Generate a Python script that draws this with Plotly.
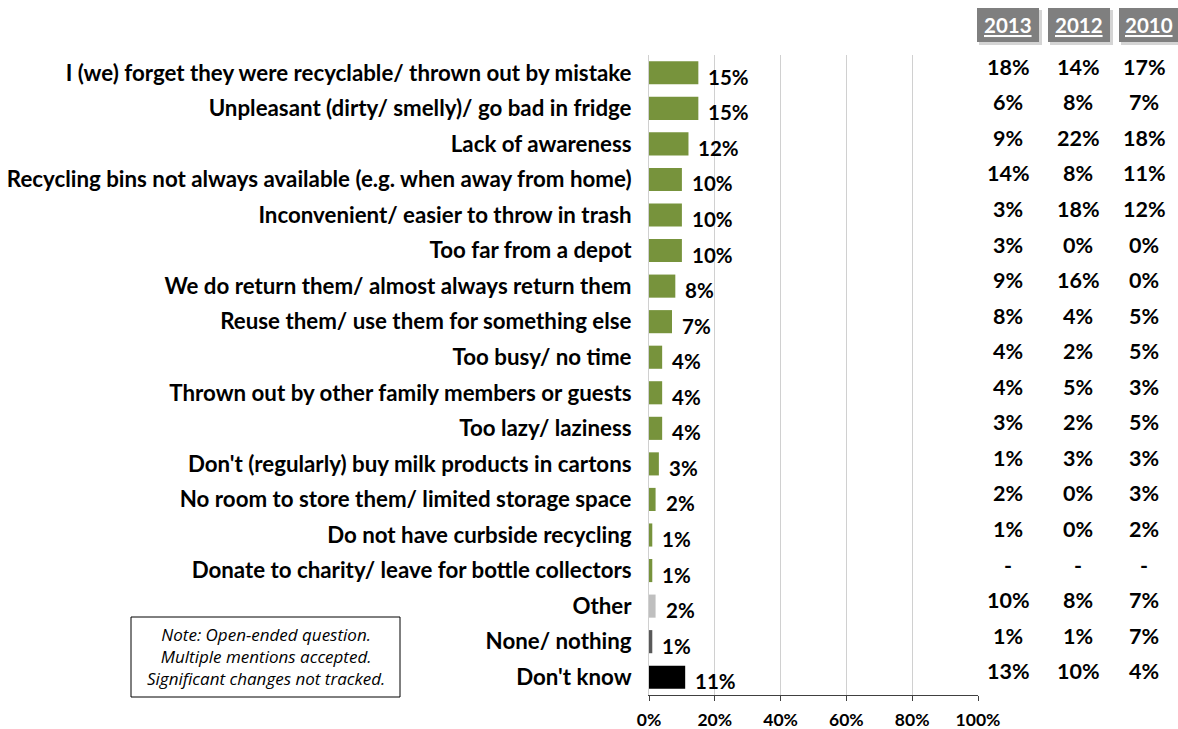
import plotly.graph_objects as go

categories = [
    "I (we) forget they were recyclable/ thrown out by mistake",
    "Unpleasant (dirty/ smelly)/ go bad in fridge",
    "Lack of awareness",
    "Recycling bins not always available (e.g. when away from home)",
    "Inconvenient/ easier to throw in trash",
    "Too far from a depot",
    "We do return them/ almost always return them",
    "Reuse them/ use them for something else",
    "Too busy/ no time",
    "Thrown out by other family members or guests",
    "Too lazy/ laziness",
    "Don't (regularly) buy milk products in cartons",
    "No room to store them/ limited storage space",
    "Do not have curbside recycling",
    "Donate to charity/ leave for bottle collectors",
    "Other",
    "None/ nothing",
    "Don't know",
]
values_2016 = [15, 15, 12, 10, 10, 10, 8, 7, 4, 4, 4, 3, 2, 1, 1, 2, 1, 11]
bar_colors = ["#77933C"] * 15 + ["#BFBFBF", "#595959", "#000000"]

table_headers = ["2013", "2012", "2010"]
col_2013 = ["18%", "6%", "9%", "14%", "3%", "3%", "9%", "8%", "4%", "4%", "3%", "1%", "2%", "1%", "-", "10%", "1%", "13%"]
col_2012 = ["14%", "8%", "22%", "8%", "18%", "0%", "16%", "4%", "2%", "5%", "2%", "3%", "0%", "0%", "-", "8%", "1%", "10%"]
col_2010 = ["17%", "7%", "18%", "11%", "12%", "0%", "0%", "5%", "5%", "3%", "5%", "3%", "3%", "2%", "-", "7%", "7%", "4%"]
table_cols = [col_2013, col_2012, col_2010]

note_text = "Note: Open-ended question.<br>Multiple mentions accepted.<br>Significant changes not tracked."

# body margin is removed (see post_script), so the figure fills the window
W, H = 1178, 729
PL, PR, PT, PB = 649, 978, 55, 695  # plot area in screen pixels
ML, MR, MT, MB = PL, W - PR, PT, H - PB
PW = PR - PL
PH = PB - PT

def px(x):
    return (x - PL) / PW

def py(y):
    return (PB - y) / PH

FONT = "Lato"

fig = go.Figure()
fig.add_trace(go.Bar(
    y=categories, x=values_2016, orientation="h",
    marker=dict(color=bar_colors, line=dict(width=0)),
    width=0.65, hoverinfo="skip",
))

annotations = []
for c, v in zip(categories, values_2016):
    annotations.append(dict(
        x=v, y=c, xref="x", yref="y", text=f"{v}%", showarrow=False,
        xanchor="left", yanchor="middle", xshift=8, yshift=-4,
        font=dict(family=FONT, size=20.5, color="#000000", weight="bold"),
    ))

col_x = [1008, 1078, 1144]
for cx, col in zip(col_x, table_cols):
    for c, v in zip(categories, col):
        annotations.append(dict(
            x=px(cx), y=c, xref="paper", yref="y", text=v, showarrow=False,
            xanchor="center", yanchor="middle", yshift=6,
            font=dict(family=FONT, size=21.5, color="#000000", weight="bold"),
        ))

box_x = [(977, 1039), (1048, 1110), (1119, 1178)]
shapes = []
for (x0, x1), hdr in zip(box_x, table_headers):
    shapes.append(dict(type="rect", xref="paper", yref="paper",
                       x0=px(x0 + 2), x1=px(x1 + 3), y0=py(45), y1=py(10),
                       fillcolor="#D4D4D4", line=dict(width=0), layer="above"))
    shapes.append(dict(type="rect", xref="paper", yref="paper",
                       x0=px(x0), x1=px(x1), y0=py(42), y1=py(8),
                       fillcolor="#7F7F7F", line=dict(width=0), layer="above"))
    annotations.append(dict(
        x=px((x0 + x1) / 2), y=py(25), xref="paper", yref="paper",
        text=f"<u>{hdr}</u>", showarrow=False, xanchor="center", yanchor="middle",
        font=dict(family=FONT, size=20.5, color="#FFFFFF", weight="bold"),
    ))

# note box
shapes.append(dict(type="rect", xref="paper", yref="paper",
                   x0=px(131), x1=px(400), y0=py(697), y1=py(617),
                   fillcolor="#FFFFFF", line=dict(color="#000000", width=1)))
annotations.append(dict(
    x=px(265.5), y=py(656), xref="paper", yref="paper",
    text=f"<i>{note_text}</i>",
    showarrow=False, xanchor="center", yanchor="middle", align="center",
    font=dict(family="Open Sans", size=17, color="#000000"),
))

fig.update_layout(
    width=W, height=H,
    margin=dict(l=ML, r=MR, t=MT, b=MB, pad=0, autoexpand=False),
    paper_bgcolor="#FFFFFF", plot_bgcolor="#FFFFFF",
    showlegend=False,
    annotations=annotations,
    shapes=shapes,
    xaxis=dict(
        range=[0, 100], tickvals=[0, 20, 40, 60, 80, 100],
        ticktext=["0%", "20%", "40%", "60%", "80%", "100%"],
        showgrid=True, gridcolor="#D0D0D0", gridwidth=1,
        showline=True, linecolor="#404040", linewidth=1,
        ticks="outside", ticklen=5, tickcolor="#404040", ticklabelstandoff=4,
        tickfont=dict(family=FONT, size=17.5, color="#000000", weight="bold"),
        zeroline=False, fixedrange=True, automargin=False,
    ),
    yaxis=dict(
        categoryorder="array", categoryarray=categories,
        range=[len(categories) - 0.5, -0.5],
        showgrid=False, zeroline=False,
        showline=True, linecolor="#D0D0D0", linewidth=1,
        ticks="", ticklabelstandoff=12,
        tickfont=dict(family=FONT, size=22.3, color="#000000", weight="bold"),
        fixedrange=True, automargin=False,
    ),
)

fig.write_html(
    "out.html",
    config={"displayModeBar": False},
    post_script="document.body.style.margin='0';document.body.style.overflow='hidden';",
)
